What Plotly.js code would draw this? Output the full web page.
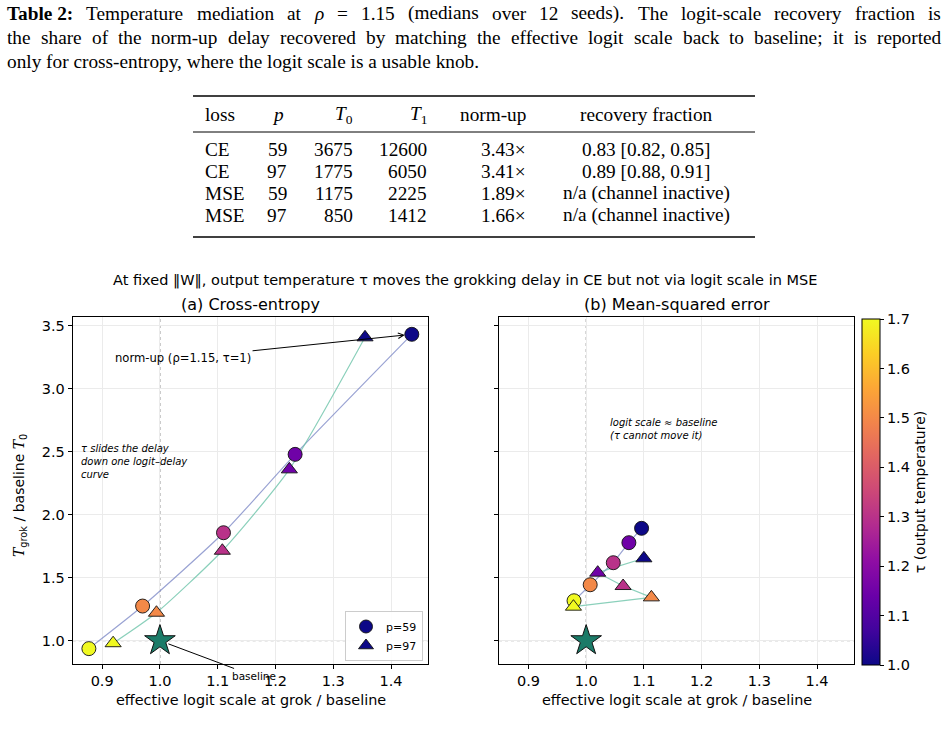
<!DOCTYPE html>
<html>
<head>
<meta charset="utf-8">
<script src="https://cdn.plot.ly/plotly-3.0.1.min.js"></script>
<style>html,body{margin:0;padding:0;background:#fff;} #chart{width:947px;height:742px;}</style>
</head>
<body>
<div id="chart"></div>
<script>
// ---------------- DATA ----------------
const tau = [1.7, 1.5, 1.3, 1.15, 1.0];
// (a) Cross-entropy
const ceP59X = [0.877, 0.970, 1.110, 1.234, 1.436];
const ceP59Y = [0.937, 1.275, 1.857, 2.479, 3.432];
const ceP97X = [0.919, 0.994, 1.108, 1.224, 1.355];
const ceP97Y = [0.980, 1.222, 1.714, 2.360, 3.408];
// (b) Mean-squared error
const mseP59X = [0.979, 1.007, 1.047, 1.074, 1.096];
const mseP59Y = [1.317, 1.444, 1.619, 1.778, 1.892];
const mseP97X = [0.978, 1.113, 1.064, 1.020, 1.100];
const mseP97Y = [1.270, 1.344, 1.434, 1.540, 1.654];
const baselineX = [1.0];
const baselineY = [1.0];
const xTicks = [0.9, 1.0, 1.1, 1.2, 1.3, 1.4];
const yTicks = [1.0, 1.5, 2.0, 2.5, 3.0, 3.5];
const cbTicks = [1.0, 1.1, 1.2, 1.3, 1.4, 1.5, 1.6, 1.7];

// Table
const tblLoss = ['CE', 'CE', 'MSE', 'MSE'];
const tblP = ['59', '97', '59', '97'];
const tblT0 = ['3675', '1775', '1175', '850'];
const tblT1 = ['12600', '6050', '2225', '1412'];
const tblNormUp = ['3.43×', '3.41×', '1.89×', '1.66×'];
const tblRecovery = ['0.83 [0.82, 0.85]', '0.89 [0.88, 0.91]', 'n/a (channel inactive)', 'n/a (channel inactive)'];
const captionLines = [
  '**Table 2:** Temperature mediation at _ρ_ = 1.15 (medians over 12 seeds). The logit-scale recovery fraction is',
  'the share of the norm-up delay recovered by matching the effective logit scale back to baseline; it is reported',
  'only for cross-entropy, where the logit scale is a usable knob.'
];

// ---------------- STYLE ----------------
const W = 947, H = 742;
const px = v => v / W;
const py = v => 1 - v / H;
const plasma = [
  [0.0, '#0d0887'], [0.1, '#41049d'], [0.2, '#6a00a8'], [0.3, '#8f0da4'],
  [0.4, '#b12a90'], [0.5, '#cc4778'], [0.6, '#e16462'], [0.7, '#f2844b'],
  [0.8, '#fca636'], [0.9, '#fcce25'], [1.0, '#f0f921']
];
const SANS = 'DejaVu Sans, sans-serif';
const SERIF = 'Liberation Serif, serif';
const line59 = 'rgba(120,132,196,0.75)';
const line97 = 'rgba(110,196,170,0.8)';
const TICK = 14.5;

function markerTrace(x, y, xa, ya, symbol, size, showscale) {
  const m = {
    color: tau, colorscale: plasma, cmin: 1.0, cmax: 1.7,
    symbol: symbol, size: size, line: {color: '#111', width: 0.9},
    showscale: !!showscale
  };
  if (showscale) {
    m.colorbar = {
      x: px(862), xanchor: 'left', xref: 'paper',
      y: py(319), yanchor: 'top', yref: 'paper',
      len: (665 - 319) / H, lenmode: 'fraction',
      thickness: 18, thicknessmode: 'pixels',
      outlinecolor: '#000', outlinewidth: 1,
      ticks: 'outside', ticklen: 4, tickcolor: '#000',
      tickvals: cbTicks, tickformat: '.1f',
      tickfont: {family: SANS, size: TICK, color: '#000'},
      xpad: 0, ypad: 0,
      title: {text: 'τ (output temperature)', side: 'right', font: {family: SANS, size: 14, color: '#000'}}
    };
  }
  return {x: x, y: y, xaxis: xa, yaxis: ya, type: 'scatter', mode: 'markers',
          marker: m, showlegend: false, hoverinfo: 'skip', cliponaxis: false};
}
function lineTrace(x, y, xa, ya, color, shape) {
  return {x: x, y: y, xaxis: xa, yaxis: ya, type: 'scatter', mode: 'lines',
          line: {color: color, width: 1.2, shape: shape, smoothing: 0.6},
          showlegend: false, hoverinfo: 'skip'};
}

const traces = [
  lineTrace(ceP59X, ceP59Y, 'x', 'y', line59, 'spline'),
  lineTrace(ceP97X, ceP97Y, 'x', 'y', line97, 'spline'),
  lineTrace(mseP59X, mseP59Y, 'x2', 'y2', line59, 'linear'),
  lineTrace(mseP97X, mseP97Y, 'x2', 'y2', line97, 'linear'),
  markerTrace(ceP59X, ceP59Y, 'x', 'y', 'circle', 14, true),
  markerTrace(ceP97X, ceP97Y, 'x', 'y', 'triangle-up', 14, false),
  markerTrace(mseP59X, mseP59Y, 'x2', 'y2', 'circle', 14, false),
  markerTrace(mseP97X, mseP97Y, 'x2', 'y2', 'triangle-up', 14, false),
  {x: baselineX, y: baselineY, xaxis: 'x', yaxis: 'y', type: 'scatter', mode: 'markers',
   marker: {symbol: 'star', size: 23, color: '#1b7b68', line: {color: '#111', width: 1}},
   showlegend: false, hoverinfo: 'skip', cliponaxis: false},
  {x: baselineX, y: baselineY, xaxis: 'x2', yaxis: 'y2', type: 'scatter', mode: 'markers',
   marker: {symbol: 'star', size: 23, color: '#1b7b68', line: {color: '#111', width: 1}},
   showlegend: false, hoverinfo: 'skip', cliponaxis: false},
  // legend entries
  {x: [null], y: [null], xaxis: 'x', yaxis: 'y', type: 'scatter', mode: 'markers', name: 'p=59',
   marker: {symbol: 'circle', size: 13, color: '#0d0887', line: {color: '#111', width: 0.9}}},
  {x: [null], y: [null], xaxis: 'x', yaxis: 'y', type: 'scatter', mode: 'markers', name: 'p=97',
   marker: {symbol: 'triangle-up', size: 13, color: '#0d0887', line: {color: '#111', width: 0.9}}}
];

const xRange = [0.849, 1.464];
const yRange = [0.815, 3.567];
function xAxis(domain, anchor) {
  return {domain: domain, anchor: anchor, range: xRange, tickvals: xTicks, tickformat: '.1f',
    showline: true, mirror: true, linecolor: '#000', linewidth: 1,
    ticks: 'outside', ticklen: 4, tickcolor: '#000',
    showgrid: true, gridcolor: '#ebebeb', gridwidth: 1, zeroline: false,
    tickfont: {family: SANS, size: TICK, color: '#000'}};
}
function yAxis(domain, anchor, labels) {
  return {domain: domain, anchor: anchor, range: yRange, tickvals: yTicks, tickformat: '.1f',
    showline: true, mirror: true, linecolor: '#000', linewidth: 1,
    ticks: 'outside', ticklen: 4, tickcolor: '#000', showticklabels: labels,
    showgrid: true, gridcolor: '#ebebeb', gridwidth: 1, zeroline: false,
    tickfont: {family: SANS, size: TICK, color: '#000'}};
}
const yDom = [py(664), py(317.3)];

const shapes = [];
[['x', 'y'], ['x2', 'y2']].forEach(([xa, ya]) => {
  shapes.push({type: 'line', xref: xa, yref: ya + ' domain', x0: 1.0, x1: 1.0, y0: 0, y1: 1,
               line: {color: '#8a8a8a', width: 1, dash: 'dot'}, layer: 'below'});
  shapes.push({type: 'line', xref: xa + ' domain', yref: ya, x0: 0, x1: 1, y0: 1.0, y1: 1.0,
               line: {color: '#8a8a8a', width: 1, dash: 'dot'}, layer: 'below'});
});
shapes.push({type: 'line', xref: 'paper', yref: 'paper', x0: px(193), x1: px(755), y0: py(96), y1: py(96), line: {color: '#000', width: 1.6}});
shapes.push({type: 'line', xref: 'paper', yref: 'paper', x0: px(193), x1: px(755), y0: py(132), y1: py(132), line: {color: '#000', width: 1}});
shapes.push({type: 'line', xref: 'paper', yref: 'paper', x0: px(193), x1: px(755), y0: py(237), y1: py(237), line: {color: '#000', width: 1.6}});

const annotations = [];
function txt(text, x, y, opts) {
  annotations.push(Object.assign({text: text, xref: 'paper', yref: 'paper', x: px(x), y: py(y),
    showarrow: false, xanchor: 'center', yanchor: 'middle', borderpad: 0,
    font: {family: SANS, size: 13, color: '#000'}}, opts || {}));
}

// caption, justified like LaTeX
const CAP = 19.3;
const cv = document.createElement('canvas').getContext('2d');
function parseWords(line) {
  // group **bold** spans as a single word, _x_ as italic
  const out = [];
  const re = /\*\*(.+?)\*\*|(\S+)/g;
  let m;
  while ((m = re.exec(line)) !== null) {
    if (m[1] !== undefined) out.push({t: m[1], b: true, i: false});
    else if (/^_.+_$/.test(m[2])) out.push({t: m[2].slice(1, -1), b: false, i: true});
    else out.push({t: m[2], b: false, i: false});
  }
  return out;
}
function measure(w) {
  cv.font = (w.i ? 'italic ' : '') + (w.b ? 'bold ' : '') + CAP + 'px "Liberation Serif"';
  return cv.measureText(w.t).width;
}
function wrapTag(w) { return w.b ? '<b>' + w.t + '</b>' : (w.i ? '<i>' + w.t + '</i>' : w.t); }
const capY = [13, 37.5, 61];
const capX0 = 6, capX1 = 940;
captionLines.forEach((line, li) => {
  const words = parseWords(line);
  const font = {family: SERIF, size: CAP, color: '#000'};
  if (li < captionLines.length - 1) {
    const widths = words.map(measure);
    const total = widths.reduce((a, b) => a + b, 0);
    const gap = (capX1 - capX0 - total) / (words.length - 1);
    let x = capX0;
    words.forEach((w, k) => {
      txt(wrapTag(w), x, capY[li], {xanchor: 'left', font: font});
      x += widths[k] + gap;
    });
  } else {
    txt(words.map(wrapTag).join(' '), capX0, capY[li], {xanchor: 'left', font: font});
  }
});

// table
const tf = {family: SERIF, size: 19.3, color: '#000'};
const rowY = [150, 171.7, 193.3, 215];
txt('loss', 204, 115, {xanchor: 'left', font: tf});
txt('<i>p</i>', 278, 115, {font: tf});
txt('<i>T</i><sub>0</sub>', 354, 115, {xanchor: 'right', font: tf});
txt('<i>T</i><sub>1</sub>', 428, 115, {xanchor: 'right', font: tf});
txt('norm-up', 527, 115, {xanchor: 'right', font: tf});
txt('recovery fraction', 646, 115, {font: tf});
for (let i = 0; i < 4; i++) {
  txt(tblLoss[i], 204, rowY[i], {xanchor: 'left', font: tf});
  txt(tblP[i], 288, rowY[i], {xanchor: 'right', font: tf});
  txt(tblT0[i], 354, rowY[i], {xanchor: 'right', font: tf});
  txt(tblT1[i], 428, rowY[i], {xanchor: 'right', font: tf});
  txt(tblNormUp[i], 527, rowY[i], {xanchor: 'right', font: tf});
  txt(tblRecovery[i], 646, rowY[i], {font: tf});
}
// figure titles
txt('At fixed ‖W‖, output temperature τ moves the grokking delay in CE but not via logit scale in MSE', 465, 280, {font: {family: SANS, size: 14.5, color: '#000'}});
txt('(a) Cross-entropy', 250.5, 304, {font: {family: SANS, size: 16, color: '#000'}});
txt('(b) Mean-squared error', 676.5, 304, {font: {family: SANS, size: 16, color: '#000'}});
txt('effective logit scale at grok / baseline', 250.5, 700, {font: {family: SANS, size: 14.4, color: '#000'}});
txt('effective logit scale at grok / baseline', 676.5, 700, {font: {family: SANS, size: 14.4, color: '#000'}});
txt('<span style="font-family:DejaVu Serif"><i>T</i></span><sub>grok</sub> / baseline <span style="font-family:DejaVu Serif"><i>T</i></span><sub>0</sub>', 20, 496, {textangle: -90, font: {family: SANS, size: 14, color: '#000'}});
// in-plot notes
txt('<i>τ slides the delay<br>down one logit–delay<br>curve</i>', 80, 461, {xanchor: 'left', align: 'left', font: {family: SANS, size: 10, color: '#000'}});
txt('<i>logit scale ≈ baseline<br>(τ cannot move it)</i>', 609, 429, {xanchor: 'left', align: 'left', font: {family: SANS, size: 10, color: '#000'}});
// arrows
annotations.push({text: 'norm-up (ρ=1.15, τ=1)', xref: 'x', yref: 'y', x: ceP59X[4], y: ceP59Y[4],
  axref: 'x', ayref: 'y', ax: 1.040, ay: 3.244, showarrow: true, arrowhead: 5, arrowsize: 1.1,
  arrowwidth: 1, arrowcolor: '#000', standoff: 7, startstandoff: 0,
  font: {family: SANS, size: 11.6, color: '#000'}});
annotations.push({text: 'baseline', xref: 'x', yref: 'y', x: baselineX[0], y: baselineY[0],
  axref: 'x', ayref: 'y', ax: 1.163, ay: 0.72, showarrow: true, arrowhead: 0,
  arrowwidth: 1, arrowcolor: '#000', standoff: 9,
  font: {family: SANS, size: 10.5, color: '#000'}});

const layout = {
  width: W, height: H,
  margin: {l: 0, r: 0, t: 0, b: 0},
  paper_bgcolor: '#fff', plot_bgcolor: '#fff',
  xaxis: xAxis([px(72.7), px(428)], 'y'),
  yaxis: yAxis(yDom, 'x', true),
  xaxis2: xAxis([px(499), px(854)], 'y2'),
  yaxis2: yAxis(yDom, 'x2', false),
  showlegend: true,
  legend: {x: px(423), xanchor: 'right', y: py(661), yanchor: 'bottom',
    bgcolor: 'rgba(255,255,255,0.9)', bordercolor: '#cccccc', borderwidth: 1,
    font: {family: SANS, size: 11, color: '#000'}, itemwidth: 30, tracegroupgap: 0},
  shapes: shapes,
  annotations: annotations
};

Plotly.newPlot('chart', traces, layout, {staticPlot: true, displayModeBar: false});
</script>
</body>
</html>
